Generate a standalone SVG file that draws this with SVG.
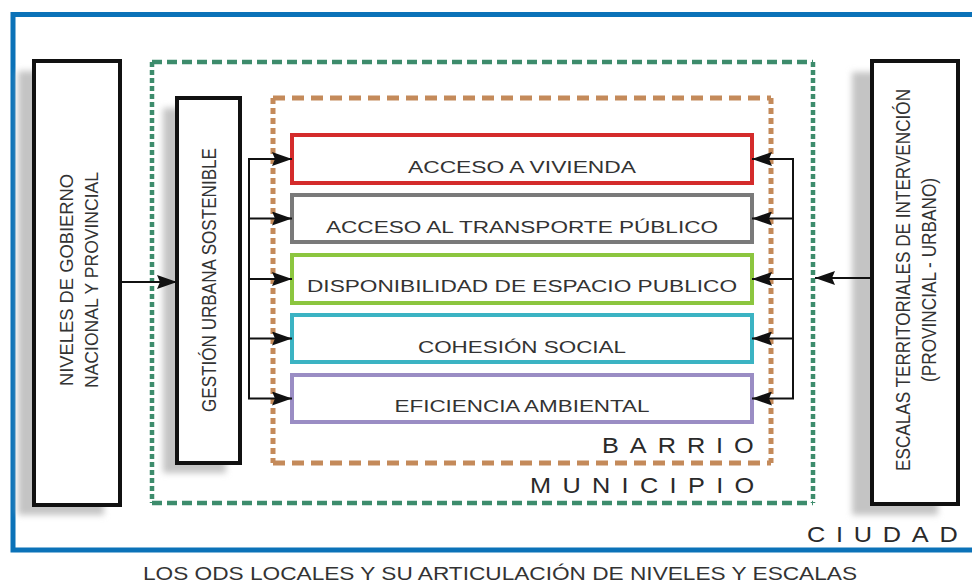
<svg xmlns="http://www.w3.org/2000/svg" width="972" height="583" viewBox="0 0 972 583">
<style>
text{font-family:"Liberation Sans",Arial,sans-serif;fill:#333;}
.h{font-size:16px;}
.v{font-size:17px;}
.sc{font-size:22px;fill:#2a2a2a;}
.blk{fill:#fff;stroke:#111;stroke-width:4;}
.shd{fill:#c4c4c4;filter:url(#blur);}
.conn{stroke:#111;stroke-width:2;fill:none;}
.arr{marker-end:url(#ah);}
.item{fill:#fff;stroke-width:4;}
.blue{stroke:#0b72b8;stroke-width:5;fill:none;}
</style>
<defs>
<filter id="blur" x="-20%" y="-20%" width="140%" height="140%"><feGaussianBlur stdDeviation="3"/></filter>
<marker id="ah" markerUnits="userSpaceOnUse" markerWidth="20" markerHeight="14" refX="20" refY="7" orient="auto"><path d="M0,0 L20,7 L0,14 L3,7 z" fill="#111"/></marker>
</defs>
<rect width="972" height="583" fill="#fff"/>
<g id="frame">
<path class="blue" d="M972,14.5 H13 V550 H972"/>
</g>
<g id="municipio">
<g stroke="#3d8c6c" stroke-width="4.5" fill="none">
<line x1="152" y1="62" x2="813" y2="62" stroke-dasharray="10 5"/>
<line x1="152" y1="503" x2="813" y2="503" stroke-dasharray="10 5"/>
<line x1="152" y1="62" x2="152" y2="503" stroke-dasharray="5 3"/>
<line x1="813" y1="62" x2="813" y2="503" stroke-dasharray="5 3"/>
</g>
<text class="sc" transform="translate(530,493) scale(1.15,1)" textLength="195">MUNICIPIO</text>
</g>
<g id="barrio">
<g stroke="#c48a5a" stroke-width="5" fill="none">
<line x1="273" y1="98" x2="771" y2="98" stroke-dasharray="12 7"/>
<line x1="273" y1="463" x2="771" y2="463" stroke-dasharray="12 7"/>
<line x1="273" y1="98" x2="273" y2="463" stroke-dasharray="6 4"/>
<line x1="771" y1="98" x2="771" y2="463" stroke-dasharray="6 4"/>
</g>
<text class="sc" transform="translate(602,453) scale(1.15,1)" textLength="132">BARRIO</text>
</g>
<g id="ciudad">
<text class="sc" transform="translate(807,542) scale(1.15,1)" textLength="131">CIUDAD</text>
</g>
<g id="niveles">
<rect class="shd" x="18" y="71" width="86" height="444"/>
<rect class="blk" x="34" y="61" width="86" height="444"/>
<text class="v" font-size="18" text-anchor="middle" textLength="212" lengthAdjust="spacingAndGlyphs" transform="translate(73,280) rotate(-90) scale(1,1.08)">NIVELES DE GOBIERNO</text>
<text class="v" font-size="18" text-anchor="middle" textLength="216" lengthAdjust="spacingAndGlyphs" transform="translate(98,280) rotate(-90) scale(1,1.08)">NACIONAL Y PROVINCIAL</text>
</g>
<g id="gestion">
<rect class="shd" x="163" y="108" width="63" height="365"/>
<rect class="blk" x="177" y="98" width="63" height="365"/>
<text class="v" text-anchor="middle" textLength="264" lengthAdjust="spacingAndGlyphs" transform="translate(216,280) rotate(-90) scale(1,1.2)">GESTIÓN URBANA SOSTENIBLE</text>
</g>
<g id="escalas">
<rect class="shd" x="852" y="72" width="86" height="443"/>
<rect class="blk" x="872" y="61" width="86" height="443"/>
<text class="v" text-anchor="middle" textLength="382" lengthAdjust="spacingAndGlyphs" transform="translate(910,280) rotate(-90) scale(1,1.2)">ESCALAS TERRITORIALES DE INTERVENCIÓN</text>
<text class="v" text-anchor="middle" textLength="204" lengthAdjust="spacingAndGlyphs" transform="translate(936,280) rotate(-90) scale(1,1.2)">(PROVINCIAL - URBANO)</text>
</g>
<g id="vivienda">
<rect class="item" x="292" y="135" width="460" height="48" stroke="#d42b2b"/>
<text class="h" x="522" y="173" text-anchor="middle" textLength="228" lengthAdjust="spacingAndGlyphs">ACCESO A VIVIENDA</text>
</g>
<g id="transporte">
<rect class="item" x="292" y="195" width="460" height="47" stroke="#7a7a7a"/>
<text class="h" x="522" y="233" text-anchor="middle" textLength="392" lengthAdjust="spacingAndGlyphs">ACCESO AL TRANSPORTE PÚBLICO</text>
</g>
<g id="espacio">
<rect class="item" x="292" y="255" width="460" height="48" stroke="#8cc63f"/>
<text class="h" x="522" y="292" text-anchor="middle" textLength="430" lengthAdjust="spacingAndGlyphs">DISPONIBILIDAD DE ESPACIO PUBLICO</text>
</g>
<g id="cohesion">
<rect class="item" x="292" y="315" width="460" height="47" stroke="#3bb3c3"/>
<text class="h" x="522" y="353" text-anchor="middle" textLength="208" lengthAdjust="spacingAndGlyphs">COHESIÓN SOCIAL</text>
</g>
<g id="eficiencia">
<rect class="item" x="292" y="375" width="460" height="47" stroke="#9a8dc4"/>
<text class="h" x="522" y="412" text-anchor="middle" textLength="255" lengthAdjust="spacingAndGlyphs">EFICIENCIA AMBIENTAL</text>
</g>
<g id="connectors">
<line class="conn arr" x1="120" y1="282" x2="177" y2="282"/>
<line class="conn arr" x1="872" y1="278" x2="815" y2="278"/>
<path class="conn" d="M249,159 V398"/>
<line class="conn arr" x1="248" y1="159" x2="292" y2="159"/>
<line class="conn arr" x1="248" y1="218.5" x2="292" y2="218.5"/>
<line class="conn arr" x1="248" y1="279" x2="292" y2="279"/>
<line class="conn arr" x1="248" y1="338.5" x2="292" y2="338.5"/>
<line class="conn arr" x1="248" y1="398.5" x2="292" y2="398.5"/>
<path class="conn" d="M793,159 V398"/>
<line class="conn arr" x1="794" y1="159" x2="752" y2="159"/>
<line class="conn arr" x1="794" y1="218.5" x2="752" y2="218.5"/>
<line class="conn arr" x1="794" y1="279" x2="752" y2="279"/>
<line class="conn arr" x1="794" y1="338.5" x2="752" y2="338.5"/>
<line class="conn arr" x1="794" y1="398.5" x2="752" y2="398.5"/>
</g>
<g id="caption">
<text x="500" y="580" font-size="18" text-anchor="middle" textLength="714" lengthAdjust="spacingAndGlyphs">LOS ODS LOCALES Y SU ARTICULACIÓN DE NIVELES Y ESCALAS</text>
</g>
</svg>
